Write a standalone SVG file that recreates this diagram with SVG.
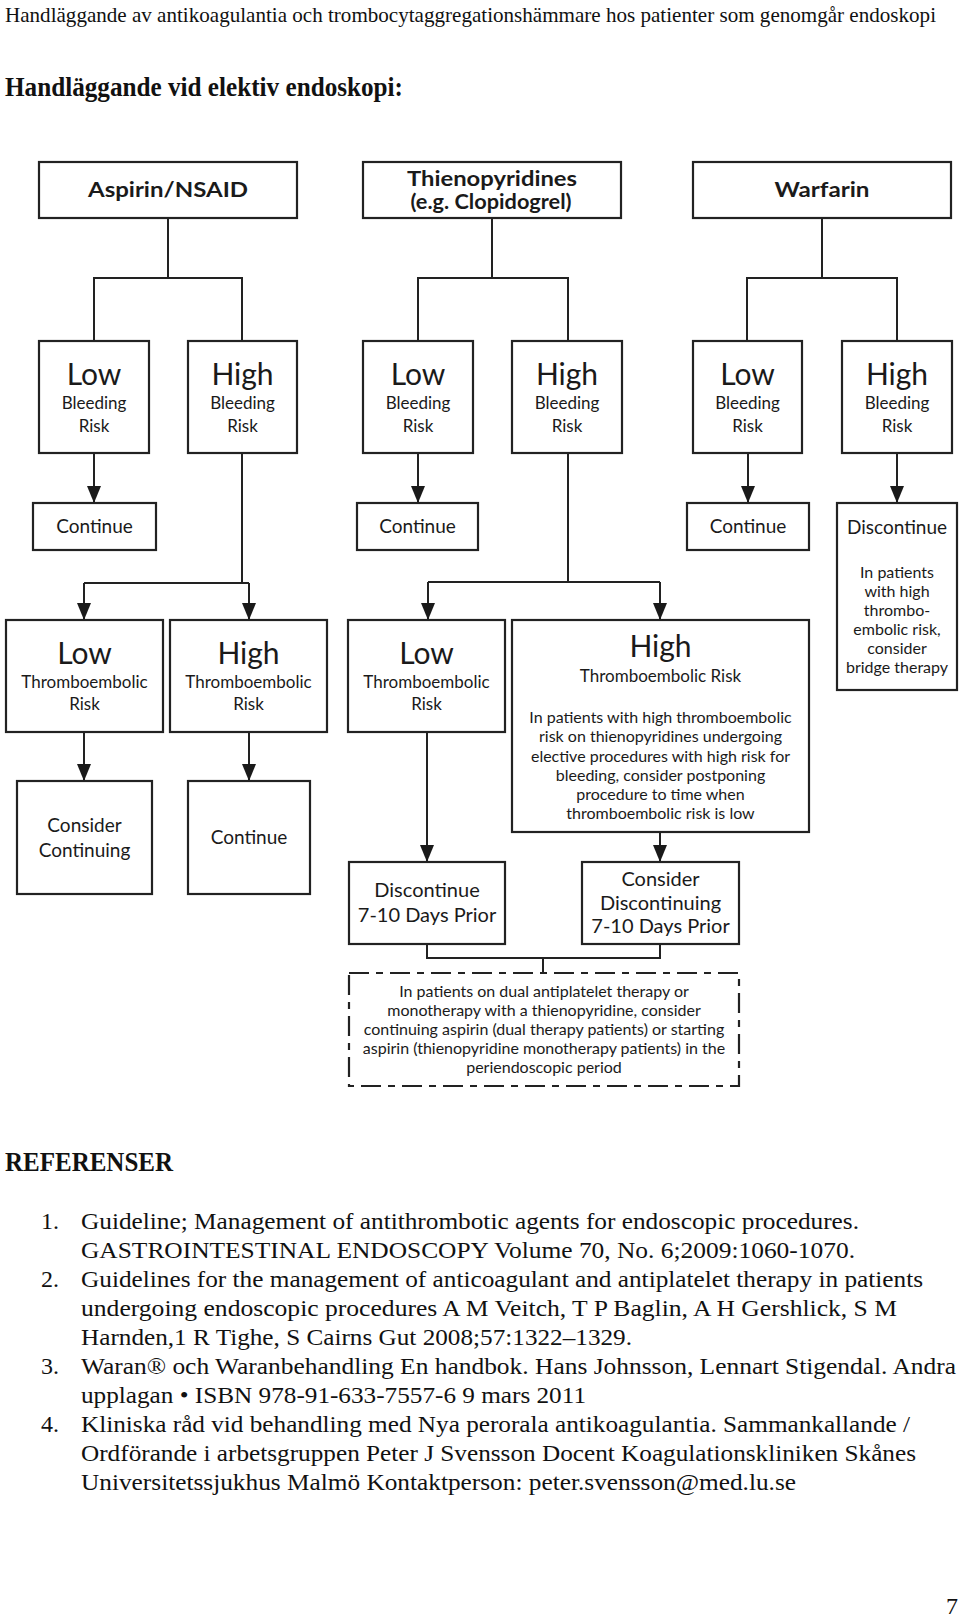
<svg xmlns="http://www.w3.org/2000/svg" width="960" height="1620" viewBox="0 0 960 1620">
<defs>
<marker id="ah" markerUnits="userSpaceOnUse" viewBox="0 0 17 14" refX="17" refY="7" markerWidth="17" markerHeight="14" orient="auto">
<path d="M0,0 L17,7 L0,14 z" fill="#1a1a1a"/>
</marker>
</defs>
<style>
.bx{fill:#fff;stroke:#222;stroke-width:2.2}
.dash{fill:none;stroke:#222;stroke-width:2.2;stroke-dasharray:20 7 7 7}
.ln{fill:none;stroke:#222;stroke-width:2}
.ar{fill:none;stroke:#222;stroke-width:2;marker-end:url(#ah)}
.t{font-family:Lato,"Open Sans",sans-serif;fill:#1a1a1a;text-anchor:middle}
.hd{font-weight:bold;font-size:21px}
.big{font-size:30px}
.mid{font-size:17px}
.c19{font-size:19px}
.c20{font-size:20px}
.sm{font-size:16px}
.s{font-family:"Liberation Serif","Times New Roman",serif;fill:#111}
.r{font-size:24px}
</style>
<rect width="960" height="1620" fill="#fff"/>

<text class="s" x="5" y="22" font-size="21" textLength="931" lengthAdjust="spacingAndGlyphs">Handläggande av antikoagulantia och trombocytaggregationshämmare hos patienter som genomgår endoskopi</text>
<text class="s" x="5" y="96" font-size="27" font-weight="bold" textLength="398" lengthAdjust="spacingAndGlyphs">Handläggande vid elektiv endoskopi:</text>

<g id="connectors">
<path class="ln" d="M168,218 V278 M94,341 V278 H242 V341"/>
<path class="ar" d="M94,453 V503"/>
<path class="ln" d="M242,453 V583 M84,583 H249"/>
<path class="ar" d="M84,583 V620"/>
<path class="ar" d="M249,583 V620"/>
<path class="ar" d="M84,732 V781"/>
<path class="ar" d="M249,732 V781"/>
<path class="ln" d="M492,218 V278 M418,341 V278 H568 V341"/>
<path class="ar" d="M418,453 V503"/>
<path class="ln" d="M568,453 V582 M428,582 H660"/>
<path class="ar" d="M428,582 V620"/>
<path class="ar" d="M660,582 V620"/>
<path class="ar" d="M427,732 V862"/>
<path class="ar" d="M660,832 V862"/>
<path class="ln" d="M427,944 V958 H660 V944 M543,958 V973"/>
<path class="ln" d="M822,218 V278 M747,341 V278 H897 V341"/>
<path class="ar" d="M748,453 V503"/>
<path class="ar" d="M897,453 V503"/>
</g>

<g id="aspirin">
<rect class="bx" x="39" y="162" width="258" height="56"/>
<text class="t hd" x="168" y="197" textLength="160" lengthAdjust="spacingAndGlyphs">Aspirin/NSAID</text>
</g>
<g id="thieno">
<rect class="bx" x="363" y="162" width="258" height="56"/>
<text class="t hd" x="492" y="186" font-size="20" textLength="170" lengthAdjust="spacingAndGlyphs">Thienopyridines</text>
<text class="t hd" x="491" y="209" font-size="20" textLength="161" lengthAdjust="spacingAndGlyphs">(e.g. Clopidogrel)</text>
</g>
<g id="warfarin">
<rect class="bx" x="693" y="162" width="258" height="56"/>
<text class="t hd" x="822" y="197" textLength="95" lengthAdjust="spacingAndGlyphs">Warfarin</text>
</g>

<g id="asp-low-bleed">
<rect class="bx" x="39" y="341" width="110" height="112"/>
<text class="t big" x="94" y="385">Low</text>
<text class="t mid" x="94" y="409">Bleeding</text>
<text class="t mid" x="94" y="432">Risk</text>
</g>
<g id="asp-high-bleed">
<rect class="bx" x="188" y="341" width="109" height="112"/>
<text class="t big" x="242.5" y="385">High</text>
<text class="t mid" x="242.5" y="409">Bleeding</text>
<text class="t mid" x="242.5" y="432">Risk</text>
</g>
<g id="thi-low-bleed">
<rect class="bx" x="363" y="341" width="110" height="112"/>
<text class="t big" x="418" y="385">Low</text>
<text class="t mid" x="418" y="409">Bleeding</text>
<text class="t mid" x="418" y="432">Risk</text>
</g>
<g id="thi-high-bleed">
<rect class="bx" x="512" y="341" width="110" height="112"/>
<text class="t big" x="567" y="385">High</text>
<text class="t mid" x="567" y="409">Bleeding</text>
<text class="t mid" x="567" y="432">Risk</text>
</g>
<g id="war-low-bleed">
<rect class="bx" x="693" y="341" width="109" height="112"/>
<text class="t big" x="747.5" y="385">Low</text>
<text class="t mid" x="747.5" y="409">Bleeding</text>
<text class="t mid" x="747.5" y="432">Risk</text>
</g>
<g id="war-high-bleed">
<rect class="bx" x="842" y="341" width="110" height="112"/>
<text class="t big" x="897" y="385">High</text>
<text class="t mid" x="897" y="409">Bleeding</text>
<text class="t mid" x="897" y="432">Risk</text>
</g>

<g id="asp-continue">
<rect class="bx" x="33" y="503" width="123" height="47"/>
<text class="t c19" x="94.5" y="533">Continue</text>
</g>
<g id="thi-continue">
<rect class="bx" x="357" y="503" width="121" height="47"/>
<text class="t c19" x="417.5" y="533">Continue</text>
</g>
<g id="war-continue">
<rect class="bx" x="687" y="503" width="122" height="47"/>
<text class="t c19" x="748" y="533">Continue</text>
</g>
<g id="war-discontinue">
<rect class="bx" x="837" y="503" width="120" height="187"/>
<text class="t c19" x="897" y="534">Discontinue</text>
<text class="t sm" x="897" y="578">In patients</text>
<text class="t sm" x="897" y="597">with high</text>
<text class="t sm" x="897" y="616">thrombo-</text>
<text class="t sm" x="897" y="635">embolic risk,</text>
<text class="t sm" x="897" y="654">consider</text>
<text class="t sm" x="897" y="673">bridge therapy</text>
</g>

<g id="asp-low-thromb">
<rect class="bx" x="6" y="620" width="157" height="112"/>
<text class="t big" x="84.5" y="664">Low</text>
<text class="t mid" x="84.5" y="688">Thromboembolic</text>
<text class="t mid" x="84.5" y="710">Risk</text>
</g>
<g id="asp-high-thromb">
<rect class="bx" x="170" y="620" width="157" height="112"/>
<text class="t big" x="248.5" y="664">High</text>
<text class="t mid" x="248.5" y="688">Thromboembolic</text>
<text class="t mid" x="248.5" y="710">Risk</text>
</g>
<g id="thi-low-thromb">
<rect class="bx" x="348" y="620" width="157" height="112"/>
<text class="t big" x="426.5" y="664">Low</text>
<text class="t mid" x="426.5" y="688">Thromboembolic</text>
<text class="t mid" x="426.5" y="710">Risk</text>
</g>
<g id="thi-high-thromb">
<rect class="bx" x="512" y="620" width="297" height="212"/>
<text class="t big" x="660.5" y="657">High</text>
<text class="t mid" x="660.5" y="682">Thromboembolic Risk</text>
<text class="t sm" x="660.5" y="723">In patients with high thromboembolic</text>
<text class="t sm" x="660.5" y="742">risk on thienopyridines undergoing</text>
<text class="t sm" x="660.5" y="762">elective procedures with high risk for</text>
<text class="t sm" x="660.5" y="781">bleeding, consider postponing</text>
<text class="t sm" x="660.5" y="800">procedure to time when</text>
<text class="t sm" x="660.5" y="819">thromboembolic risk is low</text>
</g>

<g id="asp-consider-continuing">
<rect class="bx" x="17" y="781" width="135" height="113"/>
<text class="t c19" x="84.5" y="832">Consider</text>
<text class="t c19" x="84.5" y="857">Continuing</text>
</g>
<g id="asp-continue-2">
<rect class="bx" x="188" y="781" width="122" height="113"/>
<text class="t c19" x="249" y="844">Continue</text>
</g>
<g id="thi-discontinue">
<rect class="bx" x="349" y="862" width="156" height="82"/>
<text class="t c20" x="427" y="897">Discontinue</text>
<text class="t c20" x="427" y="922">7-10 Days Prior</text>
</g>
<g id="thi-consider-discontinuing">
<rect class="bx" x="582" y="862" width="157" height="82"/>
<text class="t c20" x="660.5" y="886">Consider</text>
<text class="t c20" x="660.5" y="910">Discontinuing</text>
<text class="t c20" x="660.5" y="933">7-10 Days Prior</text>
</g>
<g id="dual-note">
<rect class="dash" x="349" y="973" width="390" height="113"/>
<text class="t sm" x="544" y="997">In patients on dual antiplatelet therapy or</text>
<text class="t sm" x="544" y="1016">monotherapy with a thienopyridine, consider</text>
<text class="t sm" x="544" y="1035">continuing aspirin (dual therapy patients) or starting</text>
<text class="t sm" x="544" y="1054">aspirin (thienopyridine monotherapy patients) in the</text>
<text class="t sm" x="544" y="1073">periendoscopic period</text>
</g>

<g id="references">
<text class="s" x="5" y="1171" font-size="27" font-weight="bold" textLength="168" lengthAdjust="spacingAndGlyphs">REFERENSER</text>
<text class="s r" x="41" y="1229">1.</text>
<text class="s r" x="81" y="1229" textLength="778" lengthAdjust="spacingAndGlyphs">Guideline; Management of antithrombotic agents for endoscopic procedures.</text>
<text class="s r" x="81" y="1258" textLength="774" lengthAdjust="spacingAndGlyphs">GASTROINTESTINAL ENDOSCOPY Volume 70, No. 6;2009:1060-1070.</text>
<text class="s r" x="41" y="1287">2.</text>
<text class="s r" x="81" y="1287" textLength="842" lengthAdjust="spacingAndGlyphs">Guidelines for the management of anticoagulant and antiplatelet therapy in patients</text>
<text class="s r" x="81" y="1316" textLength="816" lengthAdjust="spacingAndGlyphs">undergoing endoscopic procedures A M Veitch, T P Baglin, A H Gershlick, S M</text>
<text class="s r" x="81" y="1345" textLength="551" lengthAdjust="spacingAndGlyphs">Harnden,1 R Tighe, S Cairns Gut 2008;57:1322–1329.</text>
<text class="s r" x="41" y="1374">3.</text>
<text class="s r" x="81" y="1374" textLength="875" lengthAdjust="spacingAndGlyphs">Waran® och Waranbehandling En handbok. Hans Johnsson, Lennart Stigendal. Andra</text>
<text class="s r" x="81" y="1403" textLength="505" lengthAdjust="spacingAndGlyphs">upplagan • ISBN 978-91-633-7557-6 9 mars 2011</text>
<text class="s r" x="41" y="1432">4.</text>
<text class="s r" x="81" y="1432" textLength="829" lengthAdjust="spacingAndGlyphs">Kliniska råd vid behandling med Nya perorala antikoagulantia. Sammankallande /</text>
<text class="s r" x="81" y="1461" textLength="835" lengthAdjust="spacingAndGlyphs">Ordförande i arbetsgruppen Peter J Svensson Docent Koagulationskliniken Skånes</text>
<text class="s r" x="81" y="1490" textLength="715" lengthAdjust="spacingAndGlyphs">Universitetssjukhus Malmö Kontaktperson: peter.svensson@med.lu.se</text>
<text class="s r" x="946" y="1614">7</text>
</g>
</svg>
